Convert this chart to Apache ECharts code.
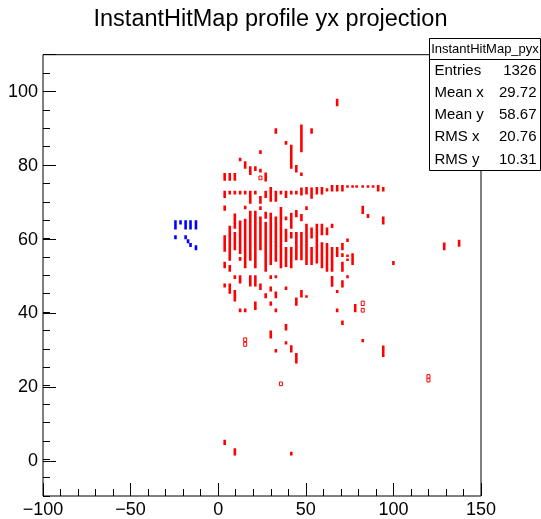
<!DOCTYPE html>
<html>
<head>
<meta charset="utf-8">
<script src="https://cdn.jsdelivr.net/npm/echarts@6/dist/echarts.min.js"></script>
<style>
html,body{margin:0;padding:0;background:#fff;}
#chart{width:541px;height:519px;}
</style>
</head>
<body>
<div id="chart"></div>
<script>
// ---- data (x, yLow, yHigh) ----
const redBars = [
  [3.7,71,73],[3.7,75.7,77.8],[3.7,67.6,69],[3.7,56.4,60.9],[3.7,51.9,53.7],[3.7,46.7,47.8],[3.7,3.9,5.3],
  [6.6,72,73],[6.6,75.7,77.8],[6.6,54,63.5],[6.6,51,52.8],[6.6,45,47.8],
  [9.5,72,73],[9.5,75.7,77.8],[9.5,62.7,66.8],[9.5,56.8,61.8],[9.5,49,50],[9.5,42.9,46],[9.5,1,3],
  [12.5,72,73],[12.5,81,82],[12.5,55.8,64.9],[12.5,54,55],[12.5,47.8,50],[12.5,40,41],
  [15.4,72,73],[15.4,79,81],[15.4,68,68.9],[15.4,51.9,65.4],[15.4,40,41],
  [18.3,69.5,73],[18.3,77.3,79.7],[18.3,54,67.6],[18.3,47,50],
  [21.2,72,73],[21.2,78.4,79.7],[21.2,51.9,67.6],[21.2,47,50],[21.2,40.6,42.9],
  [24.1,83,84],[24.1,78,79],[24.1,69.5,71.6],[24.1,67.8,68.8],[24.1,56.8,66],[24.1,46,47.8],
  [27.1,75.5,78],[27.1,71,73],[27.1,65.4,67.3],[27.1,51,64.5],[27.1,43.8,45.1],
  [30.0,70,74],[30.0,52.8,67],[30.0,49,50],[30.0,45.6,47],[30.0,41.7,42.9],[30.0,32.8,35],
  [32.9,88.5,90],[32.9,70,73],[32.9,53.7,66],[32.9,49.2,50],[32.9,43.8,45.6],[32.9,40,41],[32.9,29,30],
  [35.8,72,73],[35.8,51.9,68.6],
  [38.7,85.5,86.5],[38.7,71,73],[38.7,65,66],[38.7,59.1,62.7],[38.7,52.3,57.7],[38.7,46,47],[38.7,35,36.8],[38.7,31.2,32.1],
  [41.7,79,85.5],[41.7,72,73],[41.7,62.7,67],[41.7,60,61.8],[41.7,51.9,57.7],[41.7,29,31],[41.7,1,2],
  [44.6,78,80],[44.6,72,73],[44.6,65.8,67.8],[44.6,54.1,61.8],[44.6,41.7,44],[44.6,26,28.9],
  [47.5,83.5,91],[47.5,77,78],[47.5,71.7,73.9],[47.5,64.7,66.7],[47.5,54.1,61.8],[47.5,44,46],
  [50.4,72,74],[50.4,67.8,68.8],[50.4,52.8,64],[50.4,44,44.6],
  [53.3,88.5,90],[53.3,70.8,73.9],[53.3,60,63],[53.3,52.8,57.7],
  [56.3,72,74],[56.3,53.2,64],
  [59.2,72,74],[59.2,60.9,64],[59.2,51.9,59],
  [62.1,72.8,73.7],[62.1,60.9,63],[62.1,51,58.8],
  [65.0,72.8,74.6],[65.0,62.9,64],[65.0,51,57.7],[65.0,46.9,49.8],
  [67.9,96,98],[67.9,72.8,74.6],[67.9,55,57.7],[67.9,45.2,46],[67.9,40,41],
  [70.9,72.8,74.6],[70.9,56.8,58.8],[70.9,55,56],[70.9,51,53.7],[70.9,46.7,48.7],[70.9,36.5,37.7],
  [73.8,73.8,74.5],[73.8,59.1,60],[73.8,55,55.7],[73.8,54,54.6],[73.8,49.2,50],
  [76.7,73.8,74.5],[76.7,52.8,56],
  [79.0,73.8,74.5],[78.2,40,42.2],
  [82.5,73.8,74.5],[82.5,66.7,68.9],[82.5,31.8,32.7],
  [85.5,73.8,74.5],[85.5,65.6,66.7],
  [88.4,73.8,74.5],
  [91.3,72.8,74.6],
  [94.2,72.8,74],[94.2,63.8,66],[94.2,27.8,30.9],
  [100.0,52.8,53.9],[129.0,56.8,58.9],[137.5,57.8,59.7]
];
const redHollow = [
  [24.1,76,77],[15.4,32,33],[15.4,30.7,31.8],[35.8,20,21],
  [82.5,41.8,43],[82.5,40,41],[120.0,22,23],[120.0,21,22]
];
const blueBars = [
  [-24.4,62.5,65],[-24.4,59.8,60.9],[-21.5,63.8,65],[-18.6,62.5,65],[-18.6,59.8,60.9],
  [-17.2,58.7,59.8],[-15.8,62.5,65],[-15.8,57.7,58.8],[-12.7,62.5,65],[-12.7,56.8,58.2]
];
const xTicks = [-100, -50, 0, 50, 100, 150];
const yTicks = [0, 20, 40, 60, 80, 100];
const statsTitle = 'InstantHitMap_pyx';
const statsNames = ['Entries', 'Mean x', 'Mean y', 'RMS x', 'RMS y'];
const statsValues = ['1326', '29.72', '58.67', '20.76', '10.31'];

// ---- layout ----
const W = 541, H = 519;
const L = 43, R = 60, T = 54.7, B = 20.7;
const XMIN = -100, XMAX = 150, YMIN = -10, YMAX = 110;
const plotH = H - T - B;
const scaleY = plotH / (YMAX - YMIN);
const FONT = 'Liberation Sans, Arial, Helvetica, sans-serif';

function makeRender(color, hollow, w) {
  return function (params, api) {
    const x = api.value(0), y0 = api.value(1), y1 = api.value(2);
    const p0 = api.coord([x, y0]);
    const p1 = api.coord([x, y1]);
    const h = Math.max(p0[1] - p1[1], 2.5);
    if (hollow) {
      return {type: 'rect', shape: {x: p0[0] - w / 2, y: p1[1], width: w, height: h},
        style: {fill: '#fff', stroke: color, lineWidth: 1}};
    }
    return {type: 'rect', shape: {x: p0[0] - w / 2, y: p1[1], width: w, height: h},
      style: {fill: color}};
  };
}

const chart = echarts.init(document.getElementById('chart'), null, {renderer: 'canvas'});
const minus = v => String(v).replace('-', '\u2212');

const statsGraphics = [];
const bx = 429.5, by = 38.5, bw = 111, bh = 132, hh = 21;
statsGraphics.push({type: 'rect', shape: {x: bx, y: by, width: bw, height: bh},
  style: {fill: '#fff', stroke: '#000', lineWidth: 1}, z: 100});
statsGraphics.push({type: 'line', shape: {x1: bx, y1: by + hh, x2: bx + bw, y2: by + hh},
  style: {stroke: '#000', lineWidth: 1}, z: 101});
statsGraphics.push({type: 'text', x: bx + bw / 2, y: by + hh / 2 + 0.5, z: 101,
  style: {text: statsTitle, fill: '#000', font: '13px ' + FONT, textAlign: 'center', textVerticalAlign: 'middle'}});
const rowH = (bh - hh) / statsNames.length;
statsNames.forEach((n, i) => {
  const cy = by + hh + rowH * (i + 0.5);
  statsGraphics.push({type: 'text', x: bx + 5, y: cy, z: 101,
    style: {text: n, fill: '#000', font: '15px ' + FONT, textAlign: 'left', textVerticalAlign: 'middle'}});
  statsGraphics.push({type: 'text', x: bx + bw - 4, y: cy, z: 101,
    style: {text: statsValues[i], fill: '#000', font: '15px ' + FONT, textAlign: 'right', textVerticalAlign: 'middle'}});
});

const option = {
  animation: false,
  backgroundColor: '#fff',
  title: {text: 'InstantHitMap profile yx projection', left: 'center', top: 3,
    textStyle: {fontSize: 23.5, fontWeight: 'normal', fontFamily: FONT, color: '#000'}},
  grid: [
    {left: L, right: R, top: T, bottom: B, show: true, borderColor: '#000', borderWidth: 1, backgroundColor: 'transparent'},
    {left: L, right: R, top: T, height: scaleY * YMAX, show: false}
  ],
  xAxis: [
    {type: 'value', gridIndex: 0, min: XMIN, max: XMAX, interval: 50,
      axisLine: {show: false, onZero: false}, splitLine: {show: false},
      axisTick: {show: true, inside: true, length: 13, lineStyle: {color: '#000'}},
      minorTick: {show: true, splitNumber: 5, length: 7, lineStyle: {color: '#000'}},
      axisLabel: {color: '#000', fontSize: 18, fontFamily: FONT, margin: 5, showMinLabel: true, showMaxLabel: true,
        formatter: v => xTicks.indexOf(v) >= 0 ? minus(v) : ''}},
    {type: 'value', gridIndex: 1, min: XMIN, max: XMAX, show: false, axisLine: {onZero: false}}
  ],
  yAxis: [
    {type: 'value', gridIndex: 0, min: YMIN, max: YMAX, interval: 5,
      axisLine: {show: false, onZero: false}, splitLine: {show: false},
      axisTick: {show: true, inside: true, length: 7, lineStyle: {color: '#000'}},
      axisLabel: {show: false}},
    {type: 'value', gridIndex: 1, min: 0, max: YMAX, interval: 20,
      axisLine: {show: false, onZero: false}, splitLine: {show: false},
      axisTick: {show: true, inside: true, length: 13, lineStyle: {color: '#000'}},
      axisLabel: {color: '#000', fontSize: 18, fontFamily: FONT, margin: 5, showMinLabel: true, showMaxLabel: true,
        formatter: v => yTicks.indexOf(v) >= 0 ? String(v) : ''}}
  ],
  series: [
    {type: 'custom', xAxisIndex: 0, yAxisIndex: 0, data: redBars, renderItem: makeRender('#ff0000', false, 2.6), clip: true},
    {type: 'custom', xAxisIndex: 0, yAxisIndex: 0, data: redHollow, renderItem: makeRender('#ff0000', true, 3), clip: true},
    {type: 'custom', xAxisIndex: 0, yAxisIndex: 0, data: blueBars, renderItem: makeRender('#0000ff', false, 2.6), clip: true}
  ],
  graphic: statsGraphics
};
chart.setOption(option);
</script>
</body>
</html>
